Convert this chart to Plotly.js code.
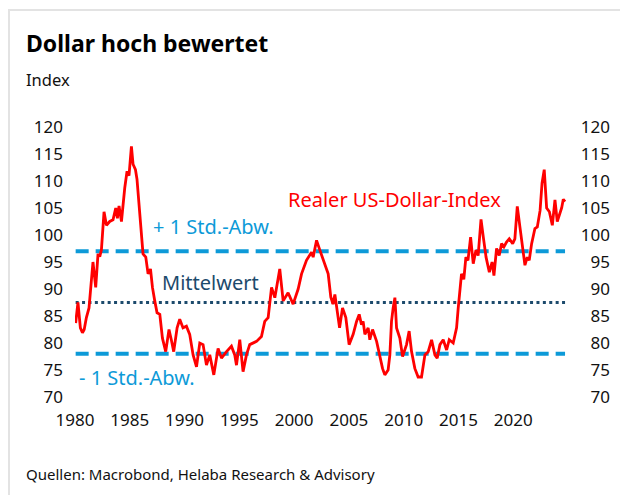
<!DOCTYPE html>
<html>
<head>
<meta charset="utf-8">
<script src="https://cdn.plot.ly/plotly-3.0.1.min.js"></script>
<style>
  html, body { margin: 0; padding: 0; background: #fff; }
  #wrap { position: relative; width: 620px; height: 495px; overflow: hidden; }
  #chart { width: 620px; height: 495px; }
  #frame { position: absolute; left: 8px; top: 9px; right: -5px; bottom: -5px;
           border-top: 2px solid #e3e3e3; border-left: 2px solid #e3e3e3; pointer-events: none; }
</style>
</head>
<body>
<div id="wrap">
  <div id="chart"></div>
  <div id="frame"></div>
</div>
<script>
const years = [
  1980.06,1980.27,1980.49,1980.68,1980.84,1981.04,1981.28,1981.64,1981.89,1982.10,
  1982.26,1982.41,1982.65,1982.87,1983.17,1983.47,1983.72,1983.87,1984.02,1984.24,
  1984.54,1984.75,1984.93,1985.15,1985.30,1985.52,1985.66,1985.84,1986.06,1986.21,
  1986.46,1986.67,1986.89,1987.07,1987.28,1987.49,1987.74,1987.98,1988.28,1988.58,
  1988.80,1989.01,1989.32,1989.56,1989.86,1990.17,1990.47,1990.78,1991.09,1991.39,
  1991.69,1992.00,1992.30,1992.67,1993.06,1993.37,1993.83,1994.28,1994.58,1994.74,
  1995.04,1995.34,1995.65,1995.95,1996.57,1997.02,1997.32,1997.63,1997.94,1998.24,
  1998.69,1999.00,1999.45,1999.91,2000.37,2000.68,2001.13,2001.59,2001.74,2002.05,
  2002.35,2002.80,2003.11,2003.35,2003.55,2003.72,2003.95,2004.15,2004.42,2004.72,
  2005.02,2005.39,2005.70,2005.94,2006.15,2006.30,2006.46,2006.76,2006.91,2007.16,
  2007.53,2007.83,2008.07,2008.28,2008.58,2008.74,2008.89,2009.04,2009.20,2009.35,
  2009.65,2009.90,2010.26,2010.50,2010.72,2011.02,2011.32,2011.63,2011.94,2012.24,
  2012.55,2012.85,2013.06,2013.31,2013.61,2013.92,2014.16,2014.52,2014.83,2014.98,
  2015.28,2015.49,2015.68,2015.87,2016.11,2016.35,2016.60,2016.80,2017.06,2017.27,
  2017.52,2017.82,2018.07,2018.24,2018.48,2018.72,2018.94,2019.15,2019.39,2019.64,
  2019.95,2020.15,2020.37,2020.61,2020.77,2021.07,2021.28,2021.46,2021.68,2021.98,
  2022.20,2022.45,2022.63,2022.83,2023.05,2023.30,2023.57,2023.81,2024.02,2024.27,
  2024.42,2024.57,2024.73
];
const dollarIndex = [
  83.7,87.5,82.8,81.9,82.5,84.7,86.5,95.0,90.3,96.5,
  96.0,97.2,104.3,101.8,102.5,102.8,105.0,103.1,105.4,102.5,
  108.7,111.8,111.0,116.4,113.1,112.1,110.3,106.2,100.9,96.5,
  95.9,92.8,93.7,90.3,87.8,85.6,85.3,80.9,78.4,82.5,
  80.5,78.4,82.8,84.4,82.8,83.1,81.6,77.8,75.6,80.0,
  79.7,75.9,77.8,74.1,79.0,77.2,78.4,79.4,77.8,75.9,
  80.6,74.7,77.8,79.7,80.3,81.2,84.0,84.7,90.3,88.4,
  93.7,87.8,89.3,87.2,90.0,92.8,95.3,96.8,95.9,99.0,
  97.2,94.7,92.8,88.5,87.2,89.0,85.9,82.8,86.5,84.7,
  79.7,81.6,84.0,85.3,83.4,84.0,81.6,82.8,80.6,82.5,
  80.3,77.2,75.3,74.1,75.0,77.8,84.0,86.5,88.4,82.8,
  80.9,77.5,79.7,82.2,78.4,75.3,73.7,73.7,77.8,78.4,
  80.6,77.8,77.2,79.7,80.6,78.7,80.6,80.0,82.8,86.5,
  92.8,91.8,95.9,95.3,99.6,94.7,97.2,96.2,102.9,99.6,
  95.9,93.1,95.0,92.5,97.5,96.2,98.4,97.8,98.7,99.3,
  98.4,99.3,105.3,101.5,99.0,94.4,95.9,95.3,98.4,101.2,
  101.5,104.5,109.6,112.1,105.0,104.3,101.8,106.5,102.5,104.0,
  105.0,106.6,106.2
];
const meanValue = 87.5;
const upperBand = 97.0;   // + 1 Std.-Abw.
const lowerBand = 78.0;   // - 1 Std.-Abw.
const xTickVals = [1980,1985,1990,1995,2000,2005,2010,2015,2020];
const xTickText = ["1980","1985","1990","1995","2000","2005","2010","2015","2020"];
const yTickVals = [70,75,80,85,90,95,100,105,110,115,120];

const FONT = "'Noto Sans', 'Open Sans', sans-serif";
const RED = "#ff0000";
const LIGHTBLUE = "#0d9ad8";
const DARKBLUE = "#1c4a6c";

const xSpan = [years[0], years[years.length - 1]];

const traces = [
  { x: xSpan, y: [upperBand, upperBand], mode: "lines", hoverinfo: "skip",
    line: { color: LIGHTBLUE, width: 4, dash: "13px,7px" } },
  { x: xSpan, y: [lowerBand, lowerBand], mode: "lines", hoverinfo: "skip",
    line: { color: LIGHTBLUE, width: 4, dash: "13px,7px" } },
  { x: xSpan, y: [meanValue, meanValue], mode: "lines", hoverinfo: "skip",
    line: { color: DARKBLUE, width: 3, dash: "3px,3.4px" } },
  { x: years, y: dollarIndex, mode: "lines",
    line: { color: RED, width: 2.8 } },
  { x: [years[0]], y: [dollarIndex[0]], yaxis: "y2", mode: "markers",
    marker: { opacity: 0 }, hoverinfo: "skip" }
];

const L = 75, R = 5, T = 127, B = 98;
const W = 620 - L - R;

const layout = {
  width: 620, height: 495,
  margin: { l: L, r: R, t: T, b: B, pad: 0 },
  paper_bgcolor: "#fff", plot_bgcolor: "#fff",
  showlegend: false,
  font: { family: FONT, size: 17, color: "#111" },
  xaxis: {
    domain: [0, (568 - L) / W],
    range: [1980, 2025],
    tickvals: xTickVals, ticktext: xTickText,
    showgrid: false, zeroline: false, showline: false, ticks: "",
    ticklabelstandoff: 11,
    tickfont: { family: FONT, size: 17, color: "#111" }
  },
  yaxis: {
    range: [70, 120], tickvals: yTickVals,
    showgrid: false, zeroline: false, showline: false, ticks: "",
    ticklabelstandoff: 11,
    tickfont: { family: FONT, size: 17, color: "#111" }
  },
  yaxis2: {
    range: [70, 120], tickvals: yTickVals, overlaying: "y",
    anchor: "free", side: "left", position: (610 - L) / W,
    showgrid: false, zeroline: false, showline: false, ticks: "",
    tickfont: { family: FONT, size: 17, color: "#111" }
  },
  annotations: [
    { xref: "paper", yref: "paper", x: (24 - L) / W, y: 1 + (T - 43) / 270,
      xanchor: "left", yanchor: "middle", showarrow: false,
      text: "<b>Dollar hoch bewertet</b>",
      font: { family: FONT, size: 23, color: "#000" } },
    { xref: "paper", yref: "paper", x: (24 - L) / W, y: 1 + (T - 79) / 270,
      xanchor: "left", yanchor: "middle", showarrow: false,
      text: "Index", font: { family: FONT, size: 16.5, color: "#111" } },
    { xref: "paper", yref: "paper", x: (24 - L) / W, y: -(474 - 397) / 270,
      xanchor: "left", yanchor: "middle", showarrow: false,
      text: "Quellen: Macrobond, Helaba Research &amp; Advisory",
      font: { family: FONT, size: 15, color: "#111" } },
    { xref: "x", yref: "y", x: 1999.3, y: 106.6, xanchor: "left", yanchor: "middle",
      showarrow: false, text: "Realer US-Dollar-Index",
      font: { family: FONT, size: 20, color: RED } },
    { xref: "x", yref: "y", x: 1986.9, y: 101.5, xanchor: "left", yanchor: "middle",
      showarrow: false, text: "+ 1 Std.-Abw.",
      font: { family: FONT, size: 20, color: LIGHTBLUE } },
    { xref: "x", yref: "y", x: 1987.8, y: 91.2, xanchor: "left", yanchor: "middle",
      showarrow: false, text: "Mittelwert",
      font: { family: FONT, size: 20, color: DARKBLUE } },
    { xref: "x", yref: "y", x: 1980.2, y: 73.7, xanchor: "left", yanchor: "middle",
      showarrow: false, text: "- 1 Std.-Abw.",
      font: { family: FONT, size: 20, color: LIGHTBLUE } }
  ]
};

Plotly.newPlot("chart", traces, layout, { staticPlot: true, displayModeBar: false });
</script>
</body>
</html>
